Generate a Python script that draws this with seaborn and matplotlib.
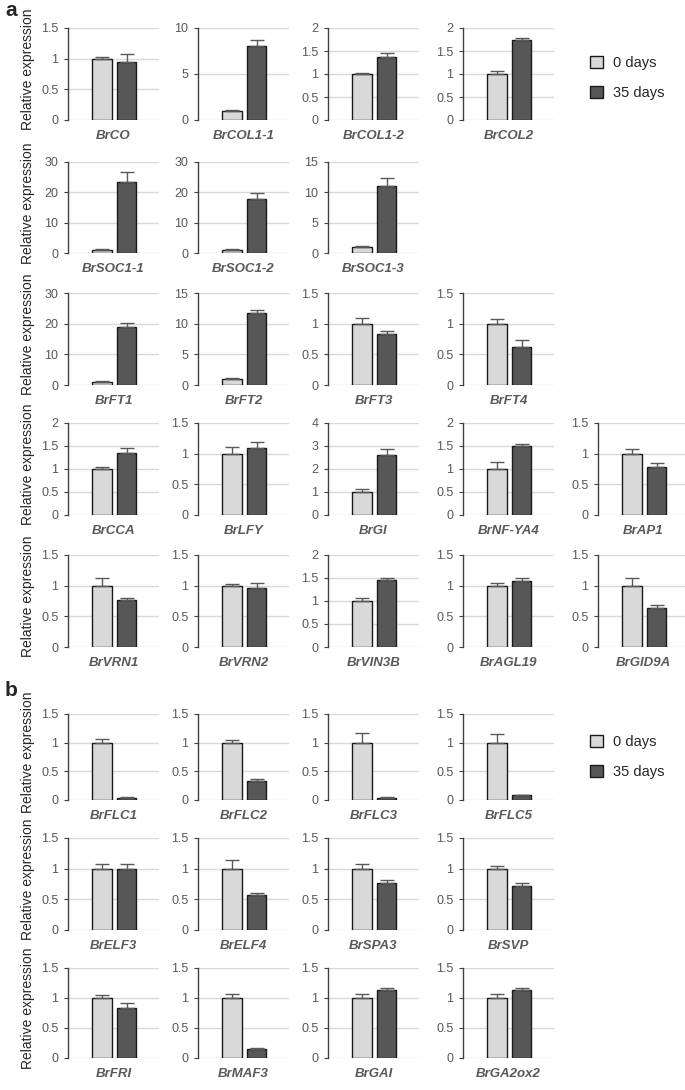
import numpy as np
import pandas as pd
import matplotlib
matplotlib.use('Agg')
import matplotlib.pyplot as plt
import seaborn as sns
from matplotlib.patches import Patch

# 遺伝子名と各パネルのy軸上限・目盛間隔
genes = ['BrCO', 'BrCOL1-1', 'BrCOL1-2', 'BrCOL2',
         'BrSOC1-1', 'BrSOC1-2', 'BrSOC1-3',
         'BrFT1', 'BrFT2', 'BrFT3', 'BrFT4',
         'BrCCA', 'BrLFY', 'BrGI', 'BrNF-YA4', 'BrAP1',
         'BrVRN1', 'BrVRN2', 'BrVIN3B', 'BrAGL19', 'BrGID9A',
         'BrFLC1', 'BrFLC2', 'BrFLC3', 'BrFLC5',
         'BrELF3', 'BrELF4', 'BrSPA3', 'BrSVP',
         'BrFRI', 'BrMAF3', 'BrGAI', 'BrGA2ox2']
y_max = [1.5, 10, 2, 2,
         30, 30, 15,
         30, 15, 1.5, 1.5,
         2, 1.5, 4, 2, 1.5,
         1.5, 1.5, 2, 1.5, 1.5,
         1.5, 1.5, 1.5, 1.5,
         1.5, 1.5, 1.5, 1.5,
         1.5, 1.5, 1.5, 1.5]
y_step = [0.5, 5, 0.5, 0.5,
          10, 10, 5,
          10, 5, 0.5, 0.5,
          0.5, 0.5, 1, 0.5, 0.5,
          0.5, 0.5, 0.5, 0.5, 0.5,
          0.5, 0.5, 0.5, 0.5,
          0.5, 0.5, 0.5, 0.5,
          0.5, 0.5, 0.5, 0.5]

# 0日目と35日目の相対発現量と誤差
mean_0d = [1.0] * 33
err_0d = [0.03, 0.10, 0.02, 0.07,
          0.20, 0.30, 0.10,
          0.20, 0.20, 0.10, 0.08,
          0.04, 0.11, 0.12, 0.15, 0.07,
          0.13, 0.03, 0.06, 0.05, 0.13,
          0.06, 0.05, 0.17, 0.15,
          0.07, 0.14, 0.08, 0.04,
          0.05, 0.06, 0.06, 0.07]
mean_35d = [0.94, 8.0, 1.38, 1.75,
            23.4, 17.7, 11.0,
            19.0, 11.8, 0.83, 0.62,
            1.35, 1.09, 2.63, 1.49, 0.79,
            0.76, 0.96, 1.45, 1.08, 0.64,
            0.04, 0.33, 0.04, 0.08,
            1.0, 0.57, 0.77, 0.72,
            0.84, 0.15, 1.13, 1.13]
err_35d = [0.13, 0.70, 0.08, 0.03,
           3.40, 2.20, 1.30,
           1.20, 0.50, 0.05, 0.11,
           0.10, 0.10, 0.22, 0.05, 0.05,
           0.04, 0.09, 0.04, 0.05, 0.04,
           0.01, 0.03, 0.01, 0.01,
           0.07, 0.04, 0.05, 0.05,
           0.07, 0.01, 0.04, 0.03]
conditions = ['0 days', '35 days']

# 行ごとのパネル構成
rows = [[0, 1, 2, 3], [4, 5, 6], [7, 8, 9, 10], [11, 12, 13, 14, 15],
        [16, 17, 18, 19, 20], [21, 22, 23, 24], [25, 26, 27, 28], [29, 30, 31, 32]]

df = pd.DataFrame({
    'gene': np.repeat(genes, 2),
    'condition': conditions * len(genes),
    'value': np.ravel(np.column_stack([mean_0d, mean_35d])),
    'err': np.ravel(np.column_stack([err_0d, err_35d])),
})

sns.set_style('white')
plt.rcParams['font.family'] = ['Liberation Sans', 'DejaVu Sans']

W, H = 685, 1090
fig = plt.figure(figsize=(W / 100, H / 100), dpi=100)

# レイアウト（ピクセル）
row_top = [28, 162, 293, 423, 555, 714, 838, 968]
row_bot = [120, 253, 385, 515, 647, 800, 930, 1058]
col_left = [68, 198, 328, 463, 598]
ax_w = 91

palette = {'0 days': '#d9d9d9', '35 days': '#575757'}
tick_gray = '#595959'

for r, idx in enumerate(rows):
    for c, g in enumerate(idx):
        ax = fig.add_axes([col_left[c] / W, 1 - row_bot[r] / H,
                           ax_w / W, (row_bot[r] - row_top[r]) / H])
        sub = df[df['gene'] == genes[g]]
        sns.barplot(data=sub, x='condition', y='value', hue='condition',
                    order=conditions, hue_order=conditions, palette=palette,
                    width=0.8, errorbar=None, legend=False,
                    edgecolor='#1a1a1a', linewidth=1.0, ax=ax)
        # 上側だけの誤差棒
        for cont, (_, row) in zip(ax.containers, sub.iterrows()):
            bar = cont[0]
            ax.errorbar(bar.get_x() + bar.get_width() / 2, bar.get_height(),
                        yerr=[[0], [row['err']]], fmt='none', ecolor=tick_gray,
                        elinewidth=1.0, capsize=5, capthick=1.0, zorder=3)
        ax.set_xlim(-1.4, 2.32)
        ax.set_ylim(0, y_max[g])
        ax.set_yticks(np.arange(0, y_max[g] + 1e-9, y_step[g]))
        ax.set_yticklabels([f'{v:g}' for v in ax.get_yticks()])
        ax.yaxis.grid(True, color='#d9d9d9', linewidth=1.0)
        ax.set_axisbelow(True)
        for s in ['top', 'right', 'bottom']:
            ax.spines[s].set_visible(False)
        ax.spines['left'].set_color('#404040')
        ax.spines['left'].set_linewidth(1.0)
        ax.tick_params(axis='y', left=True, length=3, width=0.8, color='#404040',
                       labelsize=9, labelcolor=tick_gray, pad=4)
        ax.set_xticks([])
        ax.set_xlabel(genes[g], fontsize=9.5, fontstyle='italic', fontweight='bold',
                      color=tick_gray, labelpad=7)
        if c == 0:
            ax.set_ylabel('Relative expression', fontsize=10, color='#262626')
            ax.yaxis.set_label_coords(-0.36, 0.55)
        else:
            ax.set_ylabel('')

# 凡例
handles = [Patch(facecolor=palette[k], edgecolor='#1a1a1a', linewidth=1.0) for k in conditions]
for yc in [78, 757]:
    fig.legend(handles, conditions, loc='center left',
               bbox_to_anchor=(590 / W, 1 - yc / H), frameon=False,
               fontsize=10.5, handlelength=0.9, handleheight=0.9,
               handletextpad=0.7, labelspacing=1.1, borderpad=0, borderaxespad=0)

fig.text(5 / W, 1 - 11 / H, 'a', fontsize=15, fontweight='bold', va='center')
fig.text(5 / W, 1 - 690 / H, 'b', fontsize=15, fontweight='bold', va='center')

fig.savefig('out.png', dpi=100)
